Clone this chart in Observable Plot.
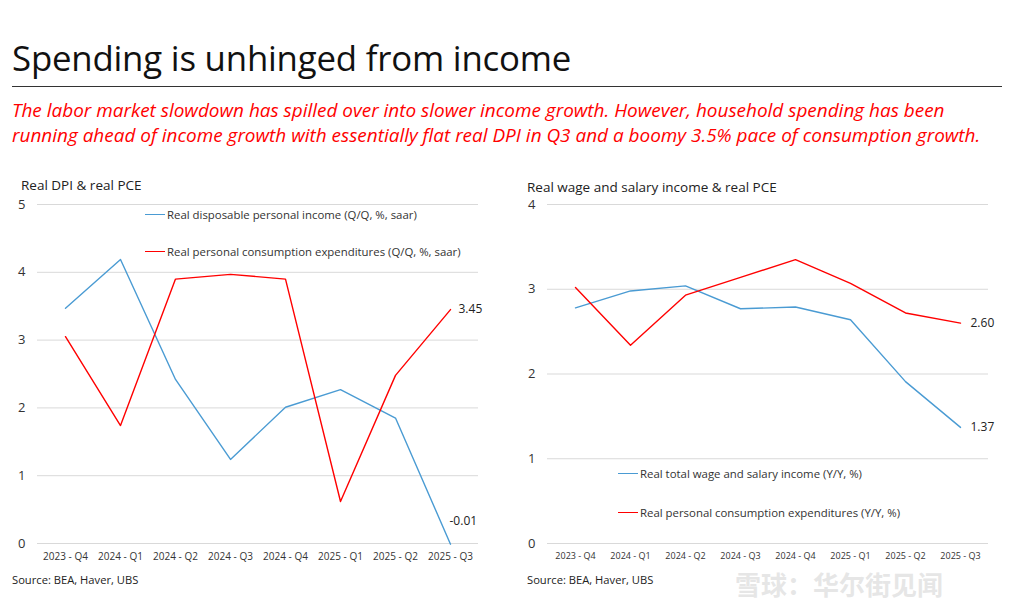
<!DOCTYPE html>
<html>
<head>
<meta charset="utf-8">
<script src="https://cdn.jsdelivr.net/npm/d3@7"></script>
<script src="https://cdn.jsdelivr.net/npm/@observablehq/plot@0.6"></script>
<style>
  html, body { margin: 0; padding: 0; background: #fff; }
  body { width: 1024px; height: 600px; position: relative; overflow: hidden; font-family: "Open Sans", "Noto Sans", sans-serif; color: #222; }
  .abs { position: absolute; white-space: nowrap; }
  #title { left: 12px; top: 34px; font-size: 34.8px; font-weight: 400; color: #111; letter-spacing: -0.2px; }
  #rule { left: 12px; top: 86px; width: 990px; height: 1px; background: #333; }
  #sub { left: 12px; top: 98px; font-size: 18.95px; font-style: italic; color: #ff0000; line-height: 25px; }
  .ctitle { font-size: 13.5px; color: #222; }
  .src { font-size: 11.2px; color: #222; }
  .leg { font-size: 11.4px; color: #333; display: flex; align-items: center; }
  .leg span.ln { display: inline-block; width: 20px; height: 0; border-top: 1.5px solid; margin-right: 2px; }
  .chart { position: absolute; top: 195px; }
  #wm { left: 735px; top: 570px; font-size: 26px; line-height: 28px; color: rgba(205,205,205,0.5); font-family: "Noto Sans CJK SC", sans-serif; font-weight: 700; }
</style>
</head>
<body>
<div id="title" class="abs">Spending is unhinged from income</div>
<div id="rule" class="abs"></div>
<div id="sub" class="abs">The labor market slowdown has spilled over into slower income growth. However, household spending has been<br>running ahead of income growth with essentially flat real DPI in Q3 and a boomy 3.5% pace of consumption growth.</div>

<div class="abs ctitle" style="left:21px; top:176px;">Real DPI &amp; real PCE</div>
<div class="abs ctitle" style="left:527px; top:178px;">Real wage and salary income &amp; real PCE</div>

<div id="left" class="chart" style="left:0px;"></div>
<div id="right" class="chart" style="left:510px;"></div>

<div class="abs leg" style="left:145px; top:207px;"><span class="ln" style="border-color:#4a9bd3"></span>Real disposable personal income (Q/Q, %, saar)</div>
<div class="abs leg" style="left:145px; top:244px;"><span class="ln" style="border-color:#ff0000"></span>Real personal consumption expenditures (Q/Q, %, saar)</div>
<div class="abs leg" style="left:618px; top:466px;"><span class="ln" style="border-color:#4a9bd3"></span>Real total wage and salary income (Y/Y, %)</div>
<div class="abs leg" style="left:618px; top:505px;"><span class="ln" style="border-color:#ff0000"></span>Real personal consumption expenditures (Y/Y, %)</div>

<div class="abs src" style="left:12px; top:572px;">Source: BEA, Haver, UBS</div>
<div class="abs src" style="left:527px; top:572px;">Source: BEA, Haver, UBS</div>
<div id="wm" class="abs">雪球：华尔街见闻</div>

<script>
const quarters = ["2023 - Q4", "2024 - Q1", "2024 - Q2", "2024 - Q3", "2024 - Q4", "2025 - Q1", "2025 - Q2", "2025 - Q3"];
const dpiQQ = [3.47, 4.19, 2.42, 1.24, 2.01, 2.27, 1.85, -0.01];
const pceQQ = [3.05, 1.74, 3.90, 3.97, 3.90, 0.62, 2.48, 3.45];
const wageYY = [2.78, 2.98, 3.04, 2.77, 2.79, 2.64, 1.91, 1.37];
const pceYY = [3.02, 2.34, 2.93, 3.14, 3.35, 3.07, 2.72, 2.60];
const leftTicks = [0, 1, 2, 3, 4, 5];
const rightTicks = [0, 1, 2, 3, 4];

const BLUE = "#4a9bd3";
const RED = "#ff0000";

function rows(vals) { return quarters.map((q, i) => ({q, v: vals[i]})); }

function makeChart(blueVals, redVals, yDomain, yTicks, blueLabel, redLabel, xFont) {
  const blue = rows(blueVals), red = rows(redVals);
  const last = quarters.length - 1;
  return Plot.plot({
    width: 500,
    height: 380,
    marginTop: 9,
    marginBottom: 32,
    marginLeft: 37,
    marginRight: 22,
    style: {fontFamily: "'Open Sans', 'Noto Sans', sans-serif", background: "transparent"},
    x: {type: "point", domain: quarters, padding: 0.5},
    y: {domain: yDomain},
    marks: [
      Plot.gridY(yTicks, {stroke: "#d9d9d9", strokeOpacity: 1, strokeWidth: 1}),
      Plot.axisY(yTicks, {tickSize: 0, tickPadding: 12, fontSize: 13, fill: "#333", label: null, tickFormat: d => String(d)}),
      Plot.axisX({tickSize: 0, tickPadding: 9, fontSize: xFont, fill: "#333", label: null}),
      Plot.line(blue, {x: "q", y: "v", stroke: BLUE, strokeWidth: 1.4}),
      Plot.line(red, {x: "q", y: "v", stroke: RED, strokeWidth: 1.4}),
      Plot.text([blue[last]], {x: "q", y: "v", text: d => d.v.toFixed(2), ...blueLabel, fontSize: 12, fill: "#222"}),
      Plot.text([red[last]], {x: "q", y: "v", text: d => d.v.toFixed(2), ...redLabel, fontSize: 12, fill: "#222"})
    ]
  });
}

document.getElementById("left").append(
  makeChart(dpiQQ, pceQQ, [0, 5], leftTicks,
    {textAnchor: "start", dx: -1, dy: -23},
    {textAnchor: "start", dx: 8, dy: 0}, 10)
);
document.getElementById("right").append(
  makeChart(wageYY, pceYY, [0, 4], rightTicks,
    {textAnchor: "start", dx: 10, dy: 0},
    {textAnchor: "start", dx: 10, dy: 0}, 9)
);
</script>
</body>
</html>
